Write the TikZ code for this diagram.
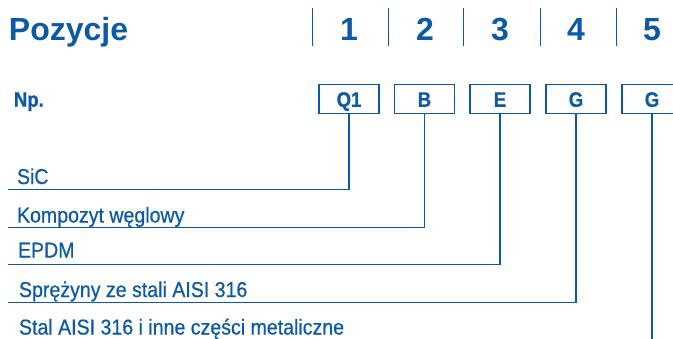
\documentclass[tikz,border=0pt]{standalone}
\usepackage{fontspec}
\setmainfont{Liberation Sans}
\newfontfamily\condfont[FakeStretch=0.91,FakeBold=0.6]{Liberation Sans}
\newfontfamily\condbold[FakeStretch=0.88,FakeBold=0.8]{Liberation Sans Bold}
\definecolor{pblue}{RGB}{12,90,166}
\begin{document}
\begin{tikzpicture}[x=1pt,y=-1pt,
  every node/.style={text=pblue,inner sep=0pt,outer sep=0pt},
  title/.style={font=\fontsize{32}{36}\selectfont\bfseries,anchor=base west},
  num/.style={font=\fontsize{32}{36}\selectfont\bfseries,anchor=base},
  sep/.style={draw=pblue,line width=1pt},
  codebox/.style={draw=pblue,line width=1.3pt,minimum width=60pt,minimum height=29pt,
    text height=15pt,text depth=0pt,font=\fontsize{21}{24}\condbold},
  lab/.style={font=\fontsize{21.5}{24}\condfont,anchor=base west},
  npl/.style={font=\fontsize{21}{24}\condbold,anchor=base west},
  conn/.style={draw=pblue,line width=1.5pt}]
\clip (0,0) rectangle (673,338);
\useasboundingbox (0,0) rectangle (673,338);
% header
\node[title] (title) at (9,40) {Pozycje};
\foreach \i/\x/\s in {1/349/312,2/425/388,3/500/463,4/576/540,5/652/616}{
  \node[num] (n\i) at (\x,40) {\i};
  \coordinate (st\i) at (\s,8);
  \coordinate (sb\i) at (\s,46);
  \draw[sep] (st\i) -- (sb\i);
}
% example row
\node[npl] (np) at (14,106.7) {Np.};
\node[codebox] (b1) at (349,99.3) {Q1};
\node[codebox] (b2) at (424.5,99.3) {B};
\node[codebox] (b3) at (500,99.3) {E};
\node[codebox] (b4) at (576,99.3) {G};
\node[codebox] (b5) at (652,99.3) {G};
% labels
\node[lab] (t1) at (17,184) {SiC};
\node[lab] (t2) at (17,222.5) {Kompozyt węglowy};
\node[lab] (t3) at (18,257.5) {EPDM};
\node[lab] (t4) at (19,297) {Sprężyny ze stali AISI 316};
\node[lab] (t5) at (19,334.5) {Stal AISI 316 i inne części metaliczne};
% line ends
\coordinate (e1) at (8,189.3);
\coordinate (e2) at (8,227.5);
\coordinate (e3) at (8,264.5);
\coordinate (e4) at (8,302.7);
\coordinate (e5) at (652,340);
\draw[conn] (b1.south) |- (e1);
\draw[conn] (b2.south) |- (e2);
\draw[conn] (b3.south) |- (e3);
\draw[conn] (b4.south) |- (e4);
\draw[conn] (b5.south) -- (e5);
\end{tikzpicture}
\end{document}
